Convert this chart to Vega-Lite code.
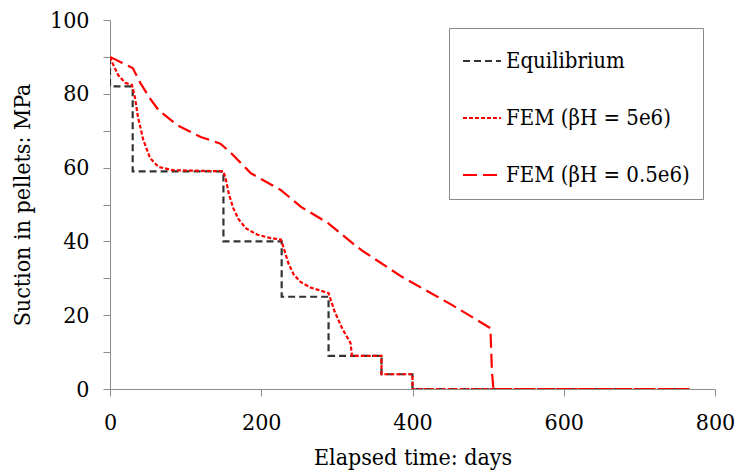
{
  "$schema": "https://vega.github.io/schema/vega-lite/v6.json",
  "width": 605,
  "height": 369,
  "autosize": {"type": "none"},
  "padding": {"left": 110, "top": 20, "right": 24, "bottom": 85},
  "background": "white",
  "config": {
    "view": {"stroke": null},
    "font": "DejaVu Serif Condensed, DejaVu Serif, serif",
    "axis": {
      "grid": false,
      "domainColor": "#8c8c8c",
      "tickColor": "#8c8c8c",
      "tickSize": 7,
      "labelFlush": false,
      "labelFont": "DejaVu Serif Condensed, DejaVu Serif, serif",
      "labelFontSize": 23,
      "labelColor": "#000",
      "titleFont": "DejaVu Serif Condensed, DejaVu Serif, serif",
      "titleFontSize": 23,
      "titleFontWeight": "normal",
      "titleColor": "#000"
    }
  },
  "data": {
    "values": [
      {"s": "Equilibrium", "i": 0, "t": 0, "v": 90},
      {"s": "Equilibrium", "i": 1, "t": 0, "v": 82},
      {"s": "Equilibrium", "i": 2, "t": 30, "v": 82},
      {"s": "Equilibrium", "i": 3, "t": 30, "v": 59},
      {"s": "Equilibrium", "i": 4, "t": 150, "v": 59},
      {"s": "Equilibrium", "i": 5, "t": 150, "v": 40},
      {"s": "Equilibrium", "i": 6, "t": 227, "v": 40},
      {"s": "Equilibrium", "i": 7, "t": 227, "v": 25},
      {"s": "Equilibrium", "i": 8, "t": 289, "v": 25},
      {"s": "Equilibrium", "i": 9, "t": 289, "v": 9},
      {"s": "Equilibrium", "i": 10, "t": 359, "v": 9},
      {"s": "Equilibrium", "i": 11, "t": 359, "v": 4},
      {"s": "Equilibrium", "i": 12, "t": 400, "v": 4},
      {"s": "Equilibrium", "i": 13, "t": 400, "v": 0},
      {"s": "Equilibrium", "i": 14, "t": 766, "v": 0},

      {"s": "FEM (βH = 5e6)", "i": 0, "t": 0, "v": 90},
      {"s": "FEM (βH = 5e6)", "i": 1, "t": 4, "v": 88},
      {"s": "FEM (βH = 5e6)", "i": 2, "t": 11, "v": 85},
      {"s": "FEM (βH = 5e6)", "i": 3, "t": 20, "v": 83},
      {"s": "FEM (βH = 5e6)", "i": 4, "t": 29, "v": 82.4},
      {"s": "FEM (βH = 5e6)", "i": 5, "t": 33, "v": 79},
      {"s": "FEM (βH = 5e6)", "i": 6, "t": 37, "v": 73.7},
      {"s": "FEM (βH = 5e6)", "i": 7, "t": 44, "v": 67.5},
      {"s": "FEM (βH = 5e6)", "i": 8, "t": 53, "v": 62.6},
      {"s": "FEM (βH = 5e6)", "i": 9, "t": 64, "v": 60.2},
      {"s": "FEM (βH = 5e6)", "i": 10, "t": 83, "v": 59.3},
      {"s": "FEM (βH = 5e6)", "i": 11, "t": 150, "v": 59},
      {"s": "FEM (βH = 5e6)", "i": 12, "t": 153, "v": 57},
      {"s": "FEM (βH = 5e6)", "i": 13, "t": 157, "v": 53},
      {"s": "FEM (βH = 5e6)", "i": 14, "t": 163, "v": 49},
      {"s": "FEM (βH = 5e6)", "i": 15, "t": 170, "v": 46},
      {"s": "FEM (βH = 5e6)", "i": 16, "t": 180, "v": 43.5},
      {"s": "FEM (βH = 5e6)", "i": 17, "t": 195, "v": 41.8},
      {"s": "FEM (βH = 5e6)", "i": 18, "t": 210, "v": 41},
      {"s": "FEM (βH = 5e6)", "i": 19, "t": 226, "v": 40.5},
      {"s": "FEM (βH = 5e6)", "i": 20, "t": 230, "v": 38},
      {"s": "FEM (βH = 5e6)", "i": 21, "t": 236, "v": 34},
      {"s": "FEM (βH = 5e6)", "i": 22, "t": 243, "v": 31},
      {"s": "FEM (βH = 5e6)", "i": 23, "t": 252, "v": 29},
      {"s": "FEM (βH = 5e6)", "i": 24, "t": 265, "v": 27.5},
      {"s": "FEM (βH = 5e6)", "i": 25, "t": 289, "v": 26},
      {"s": "FEM (βH = 5e6)", "i": 26, "t": 297, "v": 21},
      {"s": "FEM (βH = 5e6)", "i": 27, "t": 308, "v": 16},
      {"s": "FEM (βH = 5e6)", "i": 28, "t": 318, "v": 12.5},
      {"s": "FEM (βH = 5e6)", "i": 29, "t": 320, "v": 9},
      {"s": "FEM (βH = 5e6)", "i": 30, "t": 359, "v": 9},
      {"s": "FEM (βH = 5e6)", "i": 31, "t": 359, "v": 4},
      {"s": "FEM (βH = 5e6)", "i": 32, "t": 400, "v": 4},
      {"s": "FEM (βH = 5e6)", "i": 33, "t": 400, "v": 0},
      {"s": "FEM (βH = 5e6)", "i": 34, "t": 766, "v": 0},

      {"s": "FEM (βH = 0.5e6)", "i": 0, "t": 0, "v": 90},
      {"s": "FEM (βH = 0.5e6)", "i": 1, "t": 15, "v": 88.5},
      {"s": "FEM (βH = 0.5e6)", "i": 2, "t": 30, "v": 87},
      {"s": "FEM (βH = 0.5e6)", "i": 3, "t": 40, "v": 83},
      {"s": "FEM (βH = 0.5e6)", "i": 4, "t": 52, "v": 79},
      {"s": "FEM (βH = 0.5e6)", "i": 5, "t": 64, "v": 75.6},
      {"s": "FEM (βH = 0.5e6)", "i": 6, "t": 89, "v": 71.5},
      {"s": "FEM (βH = 0.5e6)", "i": 7, "t": 120, "v": 68.3},
      {"s": "FEM (βH = 0.5e6)", "i": 8, "t": 146, "v": 66.5},
      {"s": "FEM (βH = 0.5e6)", "i": 9, "t": 160, "v": 64},
      {"s": "FEM (βH = 0.5e6)", "i": 10, "t": 186, "v": 58.5},
      {"s": "FEM (βH = 0.5e6)", "i": 11, "t": 226, "v": 53.9},
      {"s": "FEM (βH = 0.5e6)", "i": 12, "t": 253, "v": 49.3},
      {"s": "FEM (βH = 0.5e6)", "i": 13, "t": 288, "v": 45},
      {"s": "FEM (βH = 0.5e6)", "i": 14, "t": 319, "v": 39.8},
      {"s": "FEM (βH = 0.5e6)", "i": 15, "t": 332, "v": 37.7},
      {"s": "FEM (βH = 0.5e6)", "i": 16, "t": 386, "v": 30.4},
      {"s": "FEM (βH = 0.5e6)", "i": 17, "t": 452, "v": 22.8},
      {"s": "FEM (βH = 0.5e6)", "i": 18, "t": 503, "v": 16.5},
      {"s": "FEM (βH = 0.5e6)", "i": 19, "t": 505, "v": 5},
      {"s": "FEM (βH = 0.5e6)", "i": 20, "t": 507, "v": 0},
      {"s": "FEM (βH = 0.5e6)", "i": 21, "t": 766, "v": 0}
    ]
  },
  "mark": {"type": "line", "strokeWidth": 2.2, "clip": true},
  "encoding": {
    "x": {
      "field": "t", "type": "quantitative",
      "scale": {"domain": [0, 800], "nice": false},
      "axis": {"values": [0, 200, 400, 600, 800], "title": "Elapsed time: days", "labelPadding": 15, "titlePadding": 12}
    },
    "y": {
      "field": "v", "type": "quantitative",
      "scale": {"domain": [0, 100], "nice": false},
      "axis": {
        "values": [0, 10, 20, 30, 40, 50, 60, 70, 80, 90, 100],
        "labelExpr": "datum.value % 20 == 0 ? datum.label : ''",
        "title": "Suction in pellets: MPa", "labelPadding": 14, "titlePadding": 15
      }
    },
    "order": {"field": "i", "type": "quantitative"},
    "color": {
      "field": "s", "type": "nominal",
      "scale": {"domain": ["Equilibrium", "FEM (βH = 5e6)", "FEM (βH = 0.5e6)"], "range": ["#333333", "#ff0000", "#ff0000"]},
      "legend": {
        "orient": "none", "legendX": 339, "legendY": 8, "title": null,
        "strokeColor": "#888888", "fillColor": "white", "padding": 13,
        "labelFont": "DejaVu Serif Condensed, DejaVu Serif, serif", "labelFontSize": 22, "labelColor": "#000", "labelLimit": 400,
        "symbolType": "stroke", "symbolSize": 1444, "symbolStrokeWidth": 2,
        "rowPadding": 26, "labelOffset": 4
      }
    },
    "strokeDash": {
      "field": "s", "type": "nominal",
      "scale": {"domain": ["Equilibrium", "FEM (βH = 5e6)", "FEM (βH = 0.5e6)"], "range": [[7, 4], [4, 2], [14, 6]]},
      "legend": {
        "orient": "none", "legendX": 339, "legendY": 8, "title": null,
        "strokeColor": "#888888", "fillColor": "white", "padding": 13,
        "labelFont": "DejaVu Serif Condensed, DejaVu Serif, serif", "labelFontSize": 22, "labelColor": "#000", "labelLimit": 400,
        "symbolType": "stroke", "symbolSize": 1444, "symbolStrokeWidth": 2,
        "rowPadding": 26, "labelOffset": 4
      }
    }
  }
}
